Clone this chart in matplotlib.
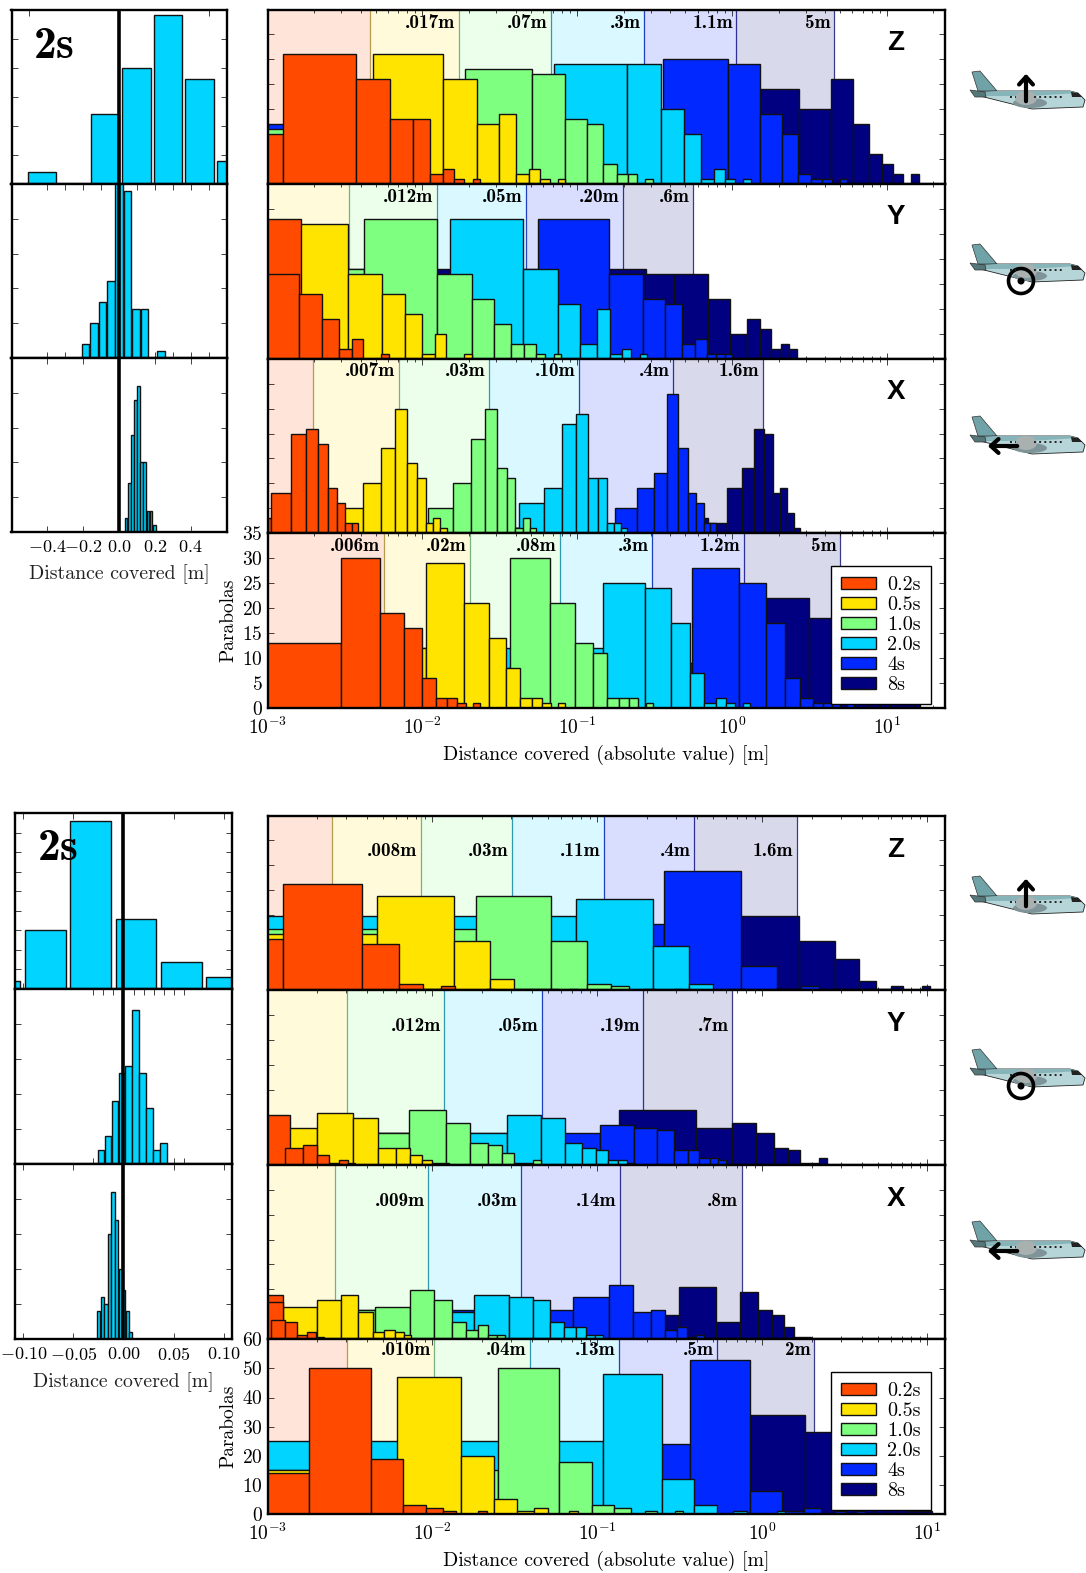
import numpy as np
import matplotlib
matplotlib.use("Agg")
import matplotlib.pyplot as plt
from matplotlib.patches import Patch, Polygon, Ellipse, Circle
from matplotlib.ticker import LogLocator, NullFormatter, FixedLocator

plt.rcParams['font.family'] = ['cmr10', 'DejaVu Sans']
plt.rcParams['mathtext.fontset'] = 'cm'
plt.rcParams['axes.unicode_minus'] = False
plt.rcParams['axes.formatter.use_mathtext'] = True

W, H = 1086, 1573

durations = ['0.2s', '0.5s', '1.0s', '2.0s', '4s', '8s']
colors = ['#FF4A00', '#FFE400', '#7FFF7F', '#00D4FF', '#0028FF', '#000080']
line_colors = ['#B89A50', '#78B080', '#3098B0', '#2040C0', '#303090', '#3A3A8A']

# first group: first bin edge and bin width per duration, then counts
z1_start = [1.26e-3, 4.82e-3, .01875, .0710, .3605, 1.03]
z1_step = [2.48e-3, 8.8e-3, .0322, .139, .58, 1.67]
z1_c02 = [10, 26, 21, 13, 13, 2, 3, 1, 0, 1]
z1_c05 = [9, 26, 21, 12, 14, 2, 3, 1, 0, 1]
z1_c10 = [11, 23, 22, 13, 12, 4, 2, 2, 0, 1]
z1_c20 = [9, 24, 24, 15, 10, 1, 3, 1, 0, 1]
z1_c4 = [12, 25, 24, 14, 10, 2, 1, 1, 0, 1]
z1_c8 = [8, 19, 15, 21, 12, 6, 4, 2, 0, 2]
z1_sigma = [.0046, .0172, .0679, .271, 1.07, 4.6]
z1_labels = ['', '.017m', '.07m', '.3m', '1.1m', '5m']

y1_start = [1.6e-3, 1.10e-3, 4.21e-3, .0152, .0558, .422]
y1_step = [.64e-3, 2.2e-3, 8.29e-3, .0298, .105, .276]
y1_c02 = [17, 13, 8, 2, 4, 0, 0, 1]
y1_c05 = [5, 27, 17, 13, 9, 1, 5, 0, 0, 1]
y1_c10 = [18, 28, 17, 12, 7, 3, 3, 1, 0, 1]
y1_c20 = [10, 28, 18, 11, 3, 10, 1, 2, 0, 1]
y1_c4 = [10, 28, 17, 12, 11, 3, 4, 1, 1, 1]
y1_c8 = [17, 17, 12, 5, 8, 6, 2, 3, 2]
y1_extra = [(0, 1.65e-3, 28), (5, .278, 18)]
y1_sigma = [.0009, .00337, .01236, .0465, .198, .559]
y1_labels = ['', '', '.012m', '.05m', '.20m', '.6m']

x1_start = [1.06e-3, 2.84e-3, .01088, .0423, .177, .478]
x1_step = [.35e-3, 1.28e-3, .00484, .0188, .0685, .226]
x1_c02 = [3, 8, 20, 21, 18, 9, 6, 2, 2]
x1_c05 = [1, 5, 10, 17, 25, 14, 11, 2, 3, 1]
x1_c10 = [1, 5, 10, 19, 25, 13, 11, 1, 3, 1]
x1_c20 = [1, 6, 9, 22, 24, 11, 11, 2, 2, 1]
x1_c4 = [1, 5, 9, 12, 28, 17, 8, 6, 2, 2]
x1_c8 = [1, 3, 2, 9, 13, 21, 20, 8, 9, 4, 1]
x1_sigma = [.00198, .00705, .027, .103, .417, 1.58]
x1_labels = ['', '.007m', '.03m', '.10m', '.4m', '1.6m']

t1_start = [3.0e-3, .01052, .0366, .147, .5487, .178]
t1_step = [2.3e-3, 8.14e-3, .0301, .129, .556, 1.48]
t1_c02 = [13, 30, 19, 16, 6, 2, 2, 1, 0, 1]
t1_c05 = [12, 29, 21, 14, 8, 2, 2, 1, 0, 1]
t1_c10 = [8, 30, 21, 13, 11, 2, 2, 2, 0, 1]
t1_c20 = [12, 25, 24, 17, 7, 1, 2, 1, 0, 1]
t1_c4 = [9, 28, 25, 17, 6, 2, 1, 1, 1, 0, 1]
t1_c8 = [5, 9, 22, 18, 12, 9, 6, 4, 2, 2, 1, 1]
t1_sigma = [.00564, .0204, .0778, .305, 1.2, 5.0]
t1_labels = ['.006m', '.02m', '.08m', '.3m', '1.2m', '5m']

# second group
z2_start = [1.25e-3, 4.59e-3, .01845, .0741, .2523, .579]
z2_step = [2.5e-3, 8.9e-3, .03415, .1422, .489, 1.084]
z2_c02 = [10.3, 21.3, 9.3, 1.3, .3, .9, 0, 0, 0, .3]
z2_c05 = [11.3, 18.8, 9.8, 2.3, .3, .3, .3, 0, .3]
z2_c10 = [12.3, 18.8, 9.9, 1.3, .9, 0, .3, 0, 0, .3]
z2_c20 = [14.8, 18.3, 8.8, 1.3, 0, .3, 0, 0, 0, .3]
z2_c4 = [13.3, 23.8, 4.9, .3, .9, 0, .3, 0, 0, .3]
z2_c8 = [7, 14.8, 9.8, 6.3, 1.9, .3, .8, 0, 0, .9]
z2_sigma = [.00246, .00847, .0305, .1097, .385, 1.62]
z2_labels = ['', '.008m', '.03m', '.11m', '.4m', '1.6m']

y2_start = [1.277e-3, .66e-3, 2.44e-3, .0282, .1038, .135]
y2_step = [.356e-3, 1.33e-3, 4.79e-3, .01755, .0624, .2595]
y2_c02 = [0, 3.3, 3.9, 1.9, .3, .9, .3]
y2_c05 = [0, 7.3, 10.3, 9.3, 3.3, 3.3, 1.9, .9, .3, .3]
y2_c10 = [1, 6.3, 10.9, 8.3, 4.3, 3.9, 2.3, .3, .3, .9]
y2_c20 = [6.3, 9.9, 9.3, 4.3, 3.3, 2.9, .9, .9, .3]
y2_c4 = [6.3, 7.9, 7.3, 6.9, 2.9, 2.9, 1.4, 1.4, .9]
y2_c8 = [2, 10.9, 7.3, 8.3, 6.3, 3.3, 2.9, .3, .3, 1.4]
y2_extra = [(0, 1.367e-3, 9.9)]
y2_sigma = [.0009, .00305, .0118, .0459, .19, .659]
y2_labels = ['', '', '.012m', '.05m', '.19m', '.7m']

x2_start = [1.047e-3, 1.22e-3, 4.46e-3, .0179, .071, .3144]
x2_step = [.23e-3, .78e-3, 2.9e-3, .0113, .0465, .208]
x2_c02 = [0, 3.9, 3.4, .9, 1.4, .4]
x2_c05 = [0, 6.5, 7.9, 8.9, 5.5, 1.4, 1.9, 1.4, .9]
x2_c10 = [5.9, 6.5, 9.9, 7.9, 3.4, 1.9, 2.9, .9, .9]
x2_c20 = [5.5, 8.9, 8.4, 7.9, 3.5, 2.5, 2.5, .9, .9]
x2_c4 = [5.9, 8.5, 10.9, 5.5, 5.9, 1.9, 2.4, .4, .9]
x2_c8 = [4.9, 10.5, 3.5, 9.5, 5.9, 4.9, 2.5, .4, .4]
x2_extra = [(0, 1.24e-3, 8.9), (0, 1.24e-3, 7.5)]
x2_sigma = [.0009, .00258, .0094, .0344, .1367, .75]
x2_labels = ['', '', '.009m', '.03m', '.14m', '.8m']

t2_start = [1.78e-3, 6.07e-3, .0248, .1074, .3656, .843]
t2_step = [2.44e-3, 8.76e-3, .0339, .14, .478, .977]
t2_c02 = [14, 50, 19, 3, 2, 1, 0, 0, 1]
t2_c05 = [15, 47, 20, 5, 1, 2, 0, 0, 1]
t2_c10 = [15, 50, 18, 3, 2, 0, 1, 0, 0, 1]
t2_c20 = [25, 48, 12, 3, 0, 1, 0, 0, 0, 1]
t2_c4 = [24, 53, 8, 1, 2, 0, 1, 0, 1]
t2_c8 = [12, 34, 28, 17, 9, 6, 3, 2, 1, 1, 1]
t2_sigma = [.00302, .01026, .0388, .136, .532, 2.06]
t2_labels = ['', '.010m', '.04m', '.13m', '.5m', '2m']

# 2s signed histograms: first bin centre, bin pitch, counts
h1z_first, h1z_pitch = -.43, .176
h1z_counts = [2, 0, 12, 20, 29, 18, 4]
h1y_first, h1y_pitch = -.187, .047
h1y_counts = [2, 5, 8, 11, 28, 24, 7, 7, 0, 1]
h1x_first, h1x_pitch = .039, .0175
h1x_counts = [2, 7, 14, 19, 21, 10, 10, 3, 3, 1]

h2z_first, h2z_pitch = -.1235, .0453
h2z_counts = [2, 15, 43, 18, 7, 3]
h2y_first, h2y_pitch = -.0227, .00695
h2y_counts = [2, 4, 9, 13, 14, 22, 13, 8, 2, 3]
h2x_first, h2x_pitch = -.0246, .00354
h2x_counts = [4, 6, 5, 15, 21, 17, 10, 7, 4, 1]

fig = plt.figure(figsize=(W / 100, H / 100), dpi=100)


def px_axes(x0, y0, x1, y1):
    return fig.add_axes([x0 / W, 1 - y1 / H, (x1 - x0) / W, (y1 - y0) / H])


def style(ax):
    for s in ax.spines.values():
        s.set_linewidth(1.7)
    ax.tick_params(which='both', direction='in', top=True, right=True,
                   labelsize=14, width=.6, color='#222222')
    ax.tick_params(which='major', length=4.5)
    ax.tick_params(which='minor', length=2.5)


def right_panel(y0, y1, xmax, ymax, ystep, start, step, counts, sigma, labels,
                label_y, extra=(), last=False):
    ax = px_axes(267.5, y0, 945, y1)
    ax.set_xscale('log')
    lo = 1e-4
    for i in range(6):
        ax.axvspan(lo, sigma[i], color=colors[i], alpha=.15, lw=0, zorder=0)
        if sigma[i] > 1e-3:
            ax.axvline(sigma[i], color=line_colors[i], lw=.9, zorder=.5)
        if labels[i]:
            ax.annotate(labels[i], (sigma[i], label_y), xytext=(-2.5, 0),
                        textcoords='offset points', ha='right', va='center',
                        family='cmb10', fontsize=13.8, zorder=.6)
        lo = sigma[i]
    # longest duration goes at the back
    for i in range(5, -1, -1):
        for e in extra:
            if e[0] == i:
                ax.bar(1e-4, e[2], width=e[1] - 1e-4, align='edge',
                       color=colors[i], edgecolor='#111111', lw=1, zorder=2)
        c = np.array(counts[i], dtype=float)
        edges = start[i] + step[i] * np.arange(len(c))
        lefts = np.concatenate(([1e-4], edges[:-1]))
        keep = c > 0
        ax.bar(lefts[keep], c[keep], width=(edges - lefts)[keep], align='edge',
               color=colors[i], edgecolor='#111111', lw=1, zorder=2)
    ax.set_xlim(1e-3, xmax)
    ax.set_ylim(0, ymax)
    ax.set_yticks(np.arange(0, ymax + 1, ystep))
    ax.xaxis.set_major_locator(LogLocator(base=10, numticks=12))
    ax.xaxis.set_minor_locator(LogLocator(base=10, subs=np.arange(2, 10), numticks=12))
    ax.xaxis.set_minor_formatter(NullFormatter())
    style(ax)
    if last:
        ax.set_xlabel('Distance covered (absolute value) [m]', fontsize=14.3, labelpad=5.5)
        ax.set_ylabel('Parabolas', fontsize=14, labelpad=3.5)
        ax.tick_params(axis='x', pad=6)
        ax.legend(handles=[Patch(facecolor=colors[i], edgecolor='#111111', lw=1,
                                 label=durations[i]) for i in range(6)],
                  loc='lower right', bbox_to_anchor=(.979, .023), borderaxespad=0,
                  fontsize=14.5, fancybox=False, framealpha=1, edgecolor='black',
                  labelspacing=.1, handlelength=1.75, handleheight=.55,
                  handletextpad=.55, borderpad=.5).set_zorder(5)
    else:
        ax.tick_params(labelbottom=False, labelleft=False)
    return ax


def left_panel(x0, x1, y0, y1, xlim, first, pitch, counts, ymax, xticks, rwidth=.9):
    ax = px_axes(x0, y0, x1, y1)
    centres = first + pitch * np.arange(len(counts))
    ax.bar(centres, counts, width=pitch * rwidth, color=colors[3],
           edgecolor='#111111', lw=1, zorder=2)
    ax.axvline(0, color='black', lw=2.6, zorder=3)
    ax.set_xlim(-xlim, xlim)
    ax.set_ylim(0, ymax)
    ax.set_yticks(np.arange(0, ymax + 1, 5))
    ax.xaxis.set_major_locator(FixedLocator(xticks))
    style(ax)
    ax.tick_params(labelbottom=False, labelleft=False)
    return ax


def group(top, rows, left_rows, xmax, last_ymax, last_step, lx0, lx1, xlim, hists, hticks, hlabels):
    ys = [top + 174.6 * k for k in range(5)]
    label_ys = rows['label_y']
    for k, name in enumerate(['z', 'y', 'x', 't']):
        r = rows[name]
        ymax = last_ymax if name == 't' else 35
        ystep = last_step if name == 't' else 5
        right_panel(ys[k], ys[k + 1], xmax, ymax, ystep, r[0], r[1], r[2], r[3], r[4],
                    label_ys[k], extra=r[5], last=name == 't')
    for k in range(3):
        first, pitch, counts, ymax = hists[k]
        ax = left_panel(lx0, lx1, left_rows[k], left_rows[k + 1], xlim,
                        first, pitch, counts, ymax, hticks[k])
    ax.set_xticklabels(hlabels)
    ax.tick_params(labelbottom=True, labelsize=13, pad=5)
    ax.set_xlabel('Distance covered [m]', fontsize=14.3, labelpad=7, color='#222222')


group(9.5,
      {'z': (z1_start, z1_step, [z1_c02, z1_c05, z1_c10, z1_c20, z1_c4, z1_c8], z1_sigma, z1_labels, ()),
       'y': (y1_start, y1_step, [y1_c02, y1_c05, y1_c10, y1_c20, y1_c4, y1_c8], y1_sigma, y1_labels, y1_extra),
       'x': (x1_start, x1_step, [x1_c02, x1_c05, x1_c10, x1_c20, x1_c4, x1_c8], x1_sigma, x1_labels, ()),
       't': (t1_start, t1_step, [t1_c02, t1_c05, t1_c10, t1_c20, t1_c4, t1_c8], t1_sigma, t1_labels, ()),
       'label_y': [32.3, 32.5, 32.5, 32.5]},
      [9.5, 184, 358, 532], 23.8, 35, 5, 11.5, 226.5, .6,
      [(h1z_first, h1z_pitch, h1z_counts, 30),
       (h1y_first, h1y_pitch, h1y_counts, 25),
       (h1x_first, h1x_pitch, h1x_counts, 25)],
      [[-.5, 0, .5], np.arange(-.4, .51, .1), np.arange(-.4, .41, .2)],
      ['$-0.4$', '$-0.2$', '$0.0$', '$0.2$', '$0.4$'])

group(815.5,
      {'z': (z2_start, z2_step, [z2_c02, z2_c05, z2_c10, z2_c20, z2_c4, z2_c8], z2_sigma, z2_labels, ()),
       'y': (y2_start, y2_step, [y2_c02, y2_c05, y2_c10, y2_c20, y2_c4, y2_c8], y2_sigma, y2_labels, y2_extra),
       'x': (x2_start, x2_step, [x2_c02, x2_c05, x2_c10, x2_c20, x2_c4, x2_c8], x2_sigma, x2_labels, x2_extra),
       't': (t2_start, t2_step, [t2_c02, t2_c05, t2_c10, t2_c20, t2_c4, t2_c8], t2_sigma, t2_labels, ()),
       'label_y': [27.8, 27.8, 27.8, 56.4]},
      [813.5, 989, 1163.5, 1339], 12.8, 60, 10, 15.3, 231.7, .108,
      [(h2z_first, h2z_pitch, h2z_counts, 45),
       (h2y_first, h2y_pitch, h2y_counts, 25),
       (h2x_first, h2x_pitch, h2x_counts, 25)],
      [[-.1, -.05, 0, .05, .1], np.arange(-.03, .061, .01), [-.1, -.05, 0, .05, .1]],
      ['$-0.10$', '$-0.05$', '$0.00$', '$0.05$', '$0.10$'])

# overlay in pixel coordinates for the plane sketches and panel letters
over = fig.add_axes([0, 0, 1, 1], zorder=10)
over.set_xlim(0, W)
over.set_ylim(H, 0)
over.axis('off')


def plane(x, y, mark):
    # x, y = left and top of the plane sketch, 115 x 38 px
    def p(pts):
        return [(x + a, y + b) for a, b in pts]
    over.add_patch(Polygon(p([(2, 1), (10, 0), (27, 20), (8, 20)]), fc='#6FA3A8', ec='#333333', lw=.5))
    over.add_patch(Polygon(p([(28, 20), (100, 20), (108, 22), (115, 29), (113, 36), (62, 38), (10, 25), (6, 21)]),
                           fc='#B5D5D8', ec='#222222', lw=.6))
    over.add_patch(Polygon(p([(10, 25), (6, 21), (28, 20), (100, 20), (108, 22), (60, 25)]), fc='#86B4B8', ec='none'))
    over.add_patch(Polygon(p([(0, 19), (15, 21), (16, 26), (5, 26)]), fc='#55777A', ec='#333333', lw=.5))
    over.add_patch(Ellipse((x + 60, y + 32), 34, 10, fc='#7F9498', ec='none'))
    over.add_patch(Ellipse((x + 56, y + 27), 22, 14, fc='#A9B0B0', ec='none'))
    over.plot([x + 40, x + 46], [y + 26, y + 26], color='#222222', lw=1.4, ls=':')
    over.plot([x + 64, x + 92], [y + 26, y + 26], color='#222222', lw=1.4, ls=':')
    over.add_patch(Polygon(p([(101, 21), (108, 22), (112, 26), (102, 26)]), fc='#222222', ec='none'))
    if mark == 'up':
        over.annotate('', (x + 56, y + 0), (x + 56, y + 33),
                      arrowprops=dict(arrowstyle='->,head_width=.5,head_length=.55', color='black', lw=3))
    elif mark == 'out':
        over.add_patch(Circle((x + 51, y + 37), 12.5, fc='none', ec='black', lw=2.6))
        over.add_patch(Circle((x + 51, y + 37), 3.5, fc='black', ec='none'))
    else:
        over.annotate('', (x + 15, y + 30), (x + 50, y + 30),
                      arrowprops=dict(arrowstyle='->,head_width=.5,head_length=.55', color='black', lw=3))


for ytop, marks in [(71, 'up'), (244, 'out'), (416, 'left'), (876, 'up'), (1049, 'out'), (1221, 'left')]:
    plane(970, ytop, marks)

for label, yc in [('Z', 43), ('Y', 217), ('X', 392), ('Z', 850), ('Y', 1024), ('X', 1199)]:
    over.text(896, yc, label, family='Liberation Sans', fontweight='bold', fontsize=20,
              ha='center', va='center')

over.text(54, 46, '2s', family='cmb10', fontsize=33, ha='center', va='center')
over.text(58, 849, '2s', family='cmb10', fontsize=33, ha='center', va='center')

fig.savefig('out.png', dpi=100)
